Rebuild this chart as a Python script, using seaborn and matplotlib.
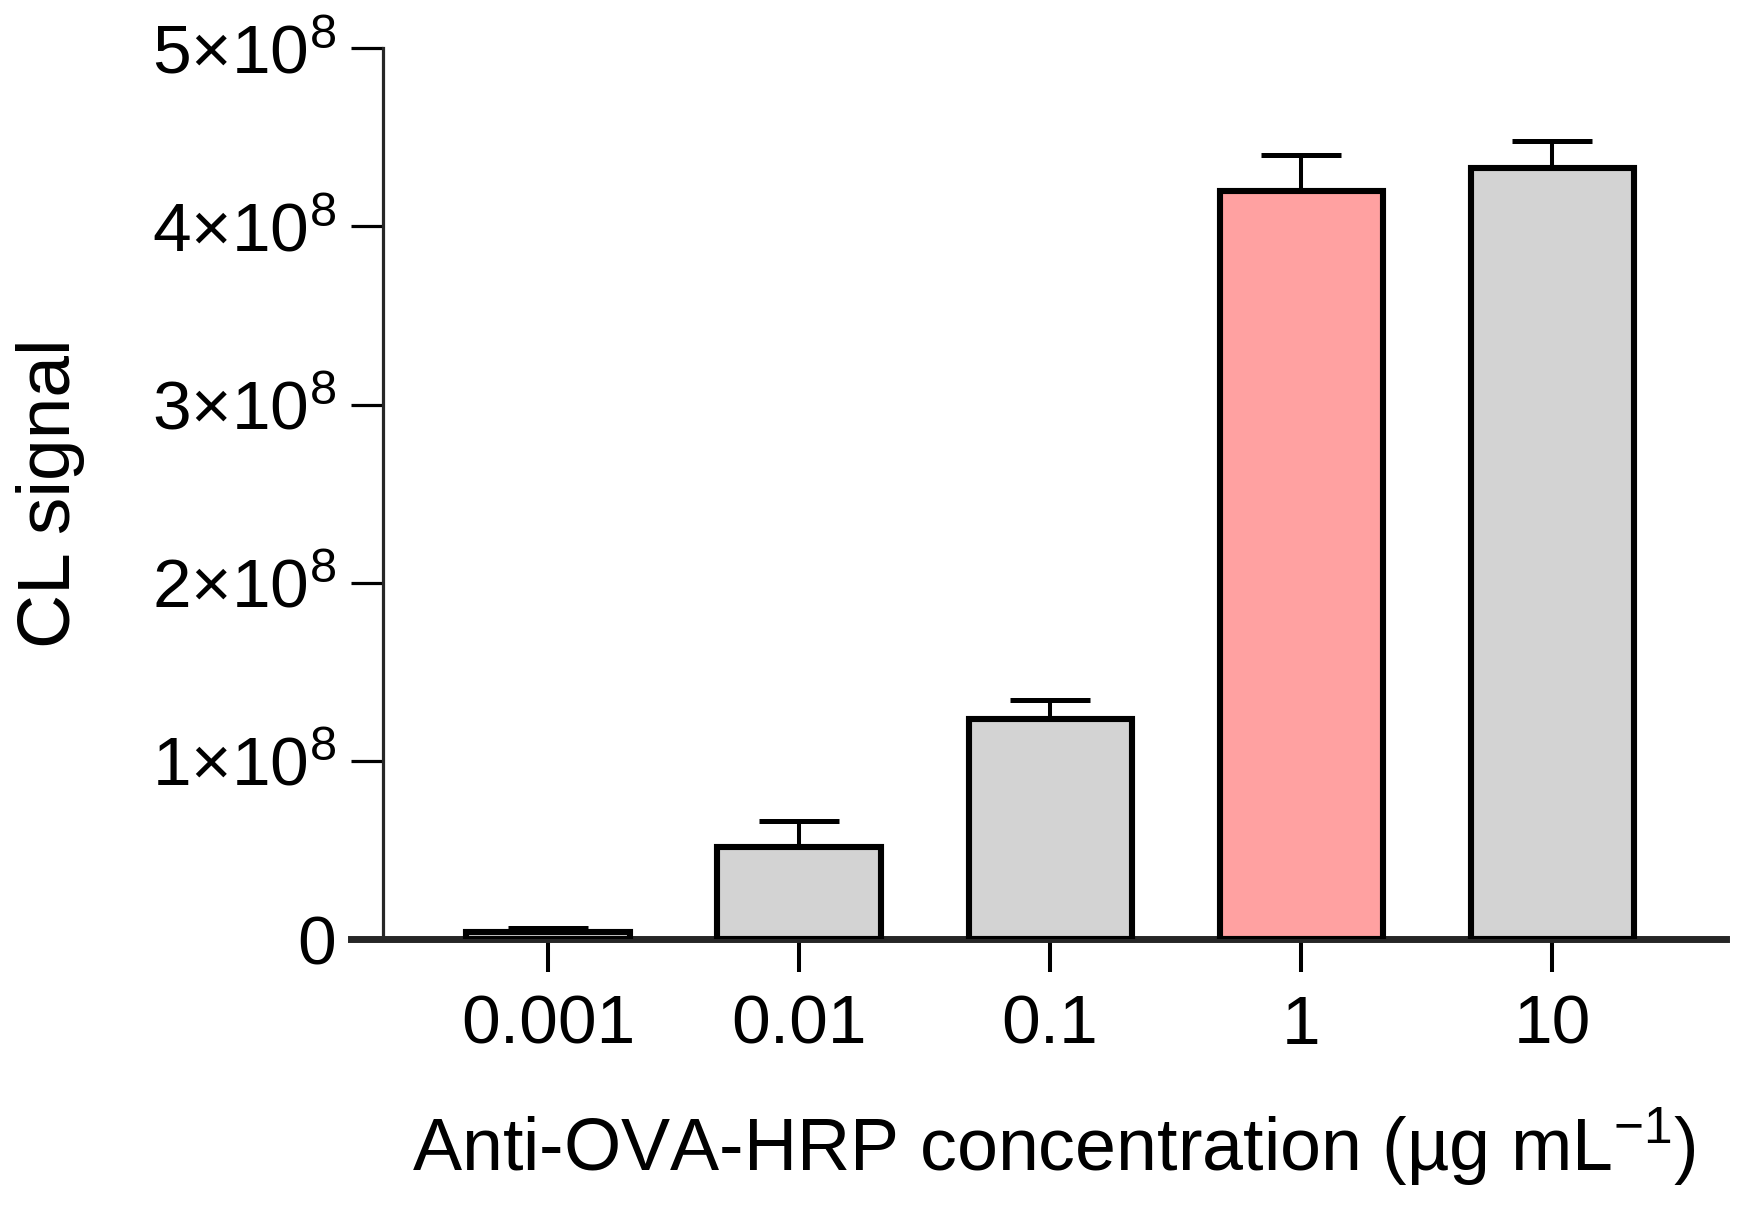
import numpy as np
import pandas as pd
import matplotlib
matplotlib.use("Agg")
import matplotlib.pyplot as plt
import seaborn as sns

# ---- data ----
categories = ["0.001", "0.01", "0.1", "1", "10"]
signal_mean = [4.1e6, 5.15e7, 1.235e8, 4.20e8, 4.33e8]
signal_err_upper = [2.0e6, 1.45e7, 1.05e7, 2.0e7, 1.5e7]
bar_colors = ["#D3D3D3", "#D3D3D3", "#D3D3D3", "#FFA1A1", "#D3D3D3"]
ytick_values = [0, 1e8, 2e8, 3e8, 4e8, 5e8]
ytick_labels = ["0", r"$1{\times}10^{8}$", r"$2{\times}10^{8}$", r"$3{\times}10^{8}$",
                r"$4{\times}10^{8}$", r"$5{\times}10^{8}$"]
xlabel = r"Anti-OVA-HRP concentration (µg mL$^{-1}$)"
ylabel = "CL signal"

sns.set_theme(style="ticks")
plt.rcParams["font.family"] = ["Liberation Sans", "DejaVu Sans"]
plt.rcParams["mathtext.fontset"] = "custom"
plt.rcParams["mathtext.rm"] = "Liberation Sans"
plt.rcParams["mathtext.it"] = "Liberation Sans:italic"
plt.rcParams["mathtext.bf"] = "Liberation Sans:bold"
plt.rcParams["mathtext.default"] = "regular"

fig = plt.figure(figsize=(17.43, 12.07), dpi=100)
ax = fig.add_axes([0.2197, 0.222, 0.7703, 0.738])

df = pd.DataFrame({"conc": categories, "signal": signal_mean})
sns.barplot(data=df, x="conc", y="signal", hue="conc", order=categories,
            hue_order=categories, palette=bar_colors, legend=False,
            edgecolor="black", linewidth=4.4, width=0.65, saturation=1,
            errorbar=None, ax=ax, zorder=3)

xpos = np.arange(len(categories))
ax.errorbar(xpos, signal_mean,
            yerr=[np.zeros(len(signal_err_upper)), signal_err_upper],
            fmt="none", ecolor="black", elinewidth=2.9, capsize=29,
            capthick=3.6, zorder=2)

ax.set_xlim(-0.657, 4.69)
ax.set_ylim(0, 5e8)
ax.set_yticks(ytick_values)
ax.set_yticklabels(ytick_labels)

for side in ["top", "right"]:
    ax.spines[side].set_visible(False)
ax.spines["left"].set_linewidth(2.3)
ax.spines["bottom"].set_linewidth(5.0)
ax.spines["bottom"].set_bounds(-0.657 - 0.127, 4.69)

ax.tick_params(axis="y", which="major", length=23, width=2.3, pad=11,
               labelsize=50, colors="black", direction="out")
ax.tick_params(axis="x", which="major", length=23.5, width=2.9, pad=16,
               labelsize=50, colors="black", direction="out")

ax.set_xlabel(xlabel, fontsize=53, labelpad=34, color="black")
ax.set_ylabel(ylabel, fontsize=54, labelpad=48, color="black")

fig.savefig("out.png", dpi=100, facecolor="white")
